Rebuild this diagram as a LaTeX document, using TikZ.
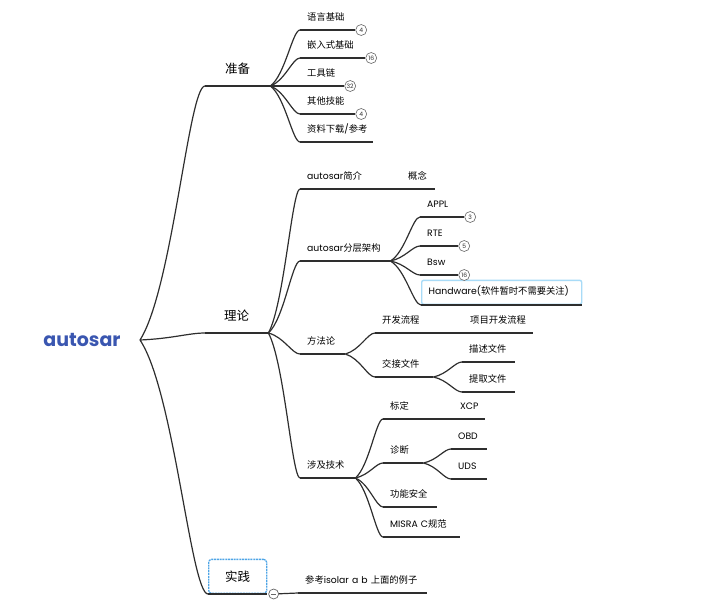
\documentclass[tikz,border=0pt]{standalone}
\usepackage{fontspec}
\setmainfont{Noto Sans CJK SC}
\newfontfamily\cjkfont{Noto Sans CJK SC}
\newfontfamily\latfont{Poppins}
\usetikzlibrary{positioning,calc}

\definecolor{linec}{HTML}{2E2E2E}
\definecolor{rootblue}{HTML}{3A56B0}
\definecolor{selblue}{HTML}{4EA5E6}
\definecolor{hoverblue}{HTML}{A8DBF7}
\definecolor{countgray}{HTML}{666666}

% latin runs in Poppins, han runs in Noto
\newXeTeXintercharclass\hanclass
\newcount\hancode
\hancode="4E00
\loop
  \XeTeXcharclass\hancode=\hanclass
  \advance\hancode by 1
\ifnum\hancode<"A000 \repeat
\XeTeXinterchartoks 4095 0 = {\latfont}
\XeTeXinterchartoks \hanclass 0 = {\latfont}
\XeTeXinterchartoks 0 \hanclass = {\cjkfont}
\XeTeXinterchartoks 4095 \hanclass = {\cjkfont}
\XeTeXinterchartokenstate=1

\begin{document}
\begin{tikzpicture}[x=1pt, y=-1pt,
    wire/.style={draw=linec, line width=1.2pt},
    link/.style={wire, to path={let \p1=(\tikztostart), \p2=(\tikztotarget) in
        .. controls +({0.5*(\x2-\x1)},{0.2*(\y2-\y1)}) and +({-0.25*(\x2-\x1)},0pt) .. (\tikztotarget)}},
    main/.style={anchor=south west, minimum width=#1, inner xsep=0pt, inner ysep=11.25pt,
        text height=10.5pt, text depth=1pt, font=\fontsize{12.5}{14}\selectfont,
        append after command={(\tikzlastnode.south west) edge[wire] (\tikzlastnode.south east)}},
    sub/.style={anchor=south west, text width=#1, align=left, inner xsep=0pt, inner ysep=7.5pt,
        text height=7pt, text depth=2pt, font=\fontsize{9.3}{11}\selectfont,
        execute at begin node=\hspace*{7pt},
        append after command={(\tikzlastnode.south west) edge[wire] (\tikzlastnode.south east)}},
    count/.style={circle, draw=countgray, line width=0.6pt, fill=white, minimum size=11pt,
        inner sep=0pt, font=\fontsize{6}{6}\selectfont, text=linec},
    fold/.style={circle, draw=countgray, line width=0.7pt, fill=white, minimum size=10pt, inner sep=0pt,
        path picture={\draw[countgray, line width=0.7pt] ([xshift=2.5pt]path picture bounding box.west)
          -- ([xshift=-2.5pt]path picture bounding box.east);}}]
    \useasboundingbox (0,0) rectangle (726,600);

    \node (root) [font=\latfont\bfseries\fontsize{19}{22}\selectfont, text=rootblue] at (82,340) {autosar};
    \coordinate (hub) at (140,340);

    % first level
    \node (zhunbei) [main=65pt] at (205,86) {准备};
    \node (lilun) [main=63pt] at (205,333) {理论};
    \node (shijian) [main=58pt, draw=selblue, line width=1.3pt, dash pattern=on 2pt off 0.8pt, rounded corners=3pt] at (208,594) {实践};

    \draw[link] (hub) to (zhunbei.south west);
    \draw[link] (hub) to (lilun.south west);
    \draw[link] (hub) to (shijian.south west);

    % 准备
    \node (yuyan) [sub=55pt] at (300,30) {语言基础};
    \node (qianru) [sub=65pt] at (300,58) {嵌入式基础};
    \node (gongju) [sub=44pt] at (300,86) {工具链};
    \node (qita) [sub=55pt] at (300,114) {其他技能};
    \node (ziliao) [sub=73pt] at (300,142) {资料下载/参考};
    \node (nyuyan) [count, right=0pt of yuyan.south east] {4};
    \node (nqianru) [count, right=0pt of qianru.south east] {16};
    \node (ngongju) [count, right=0pt of gongju.south east] {32};
    \node (nqita) [count, right=0pt of qita.south east] {4};

    \draw[link] (zhunbei.south east) to (yuyan.south west);
    \draw[link] (zhunbei.south east) to (qianru.south west);
    \draw[link] (zhunbei.south east) to (gongju.south west);
    \draw[link] (zhunbei.south east) to (qita.south west);
    \draw[link] (zhunbei.south east) to (ziliao.south west);

    % 理论
    \node (jianjie) [sub=67pt] at (300,189) {autosar简介};
    \node (gainian) [sub=34pt] at (401,189) {概念};
    \node (fenceng) [sub=90pt] at (300,261) {autosar分层架构};
    \node (appl) [sub=44pt] at (420,217) {APPL};
    \node (rte) [sub=38pt] at (420,246) {RTE};
    \node (bsw) [sub=38pt] at (420,275) {Bsw};
    \node (handware) [sub=160pt, draw=hoverblue, line width=1.4pt, rounded corners=2pt, fill=white] at (421,305) {Handware(软件暂时不需要关注)};
    \node (nappl) [count, right=0pt of appl.south east] {3};
    \node (nrte) [count, right=0pt of rte.south east] {5};
    \node (nbsw) [count, right=0pt of bsw.south east] {16};
    \node (fangfa) [sub=45pt] at (300,354) {方法论};
    \node (kaifa) [sub=52pt] at (375,333) {开发流程};
    \node (xiangmu) [sub=70pt] at (463,333) {项目开发流程};
    \node (jiaojie) [sub=58pt] at (375,377) {交接文件};
    \node (miaoshu) [sub=53pt] at (462,362) {描述文件};
    \node (tiqu) [sub=53pt] at (462,392) {提取文件};
    \node (sheji) [sub=55pt] at (300,478) {涉及技术};
    \node (biaoding) [sub=35pt] at (383,419) {标定};
    \node (xcp) [sub=32pt] at (453,419) {XCP};
    \node (zhenduan) [sub=40pt] at (383,463) {诊断};
    \node (obd) [sub=36pt] at (451,449) {OBD};
    \node (uds) [sub=36pt] at (451,479) {UDS};
    \node (gongneng) [sub=54pt] at (383,507) {功能安全};
    \node (misra) [sub=77pt] at (383,537) {MISRA C规范};

    \draw[link] (lilun.south east) to (jianjie.south west);
    \draw[link] (lilun.south east) to (fenceng.south west);
    \draw[link] (lilun.south east) to (fangfa.south west);
    \draw[link] (lilun.south east) to (sheji.south west);
    \draw[link] (jianjie.south east) to (gainian.south west);
    \draw[link] (fenceng.south east) to (appl.south west);
    \draw[link] (fenceng.south east) to (rte.south west);
    \draw[link] (fenceng.south east) to (bsw.south west);
    \draw[link] (fenceng.south east) to (handware.south west);
    \draw[link] (fangfa.south east) to (kaifa.south west);
    \draw[link] (fangfa.south east) to (jiaojie.south west);
    \draw[link] (kaifa.south east) to (xiangmu.south west);
    \draw[link] (jiaojie.south east) to (miaoshu.south west);
    \draw[link] (jiaojie.south east) to (tiqu.south west);
    \draw[link] (sheji.south east) to (biaoding.south west);
    \draw[link] (sheji.south east) to (zhenduan.south west);
    \draw[link] (sheji.south east) to (gongneng.south west);
    \draw[link] (sheji.south east) to (misra.south west);
    \draw[link] (biaoding.south east) to (xcp.south west);
    \draw[link] (zhenduan.south east) to (obd.south west);
    \draw[link] (zhenduan.south east) to (uds.south west);

    % 实践
    \node (fold) [fold, right=1pt of shijian.south east] {};
    \node (cankao) [sub=129pt] at (298,593) {参考isolar a b 上面的例子};
    \draw[wire] (fold) -- (cankao.south west);
\end{tikzpicture}
\end{document}
